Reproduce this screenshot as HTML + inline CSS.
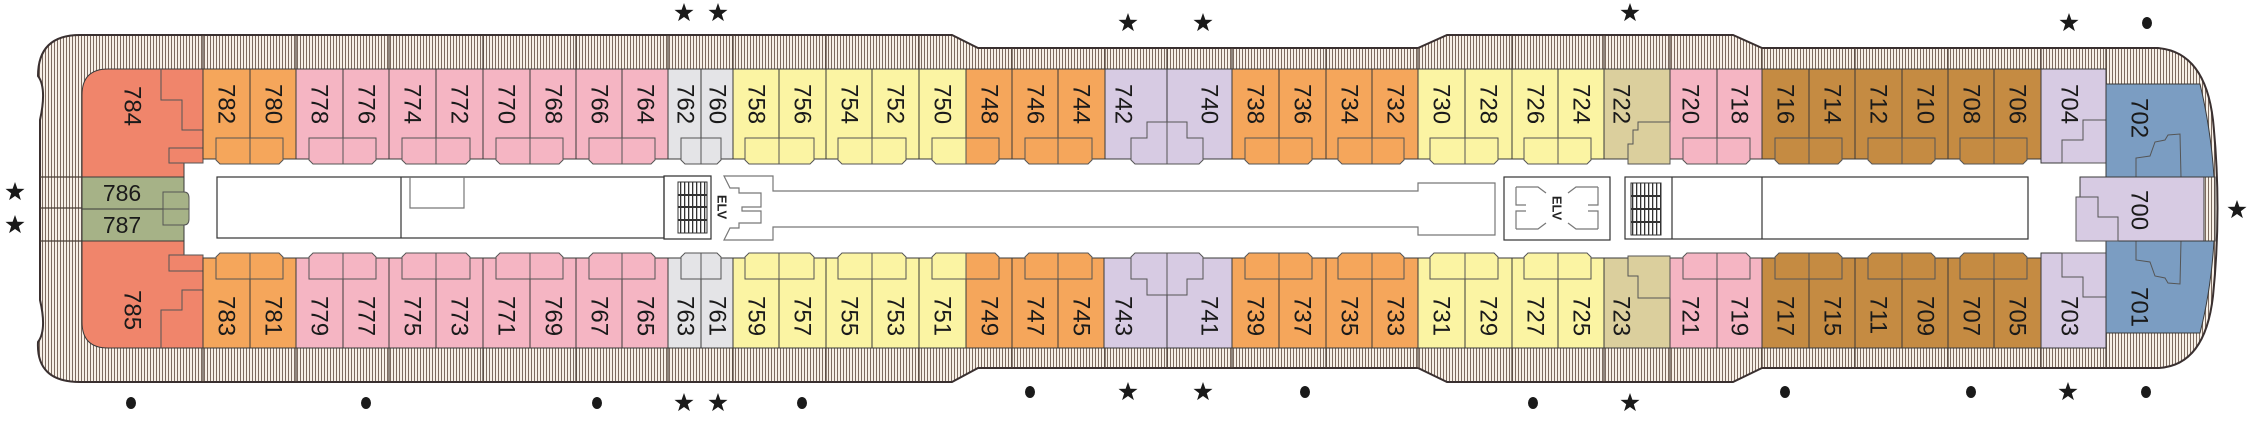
<!DOCTYPE html>
<html><head><meta charset="utf-8"><style>
html,body{margin:0;padding:0;background:#fff;}
svg{display:block;}
.n{font-family:"Liberation Sans",sans-serif;font-size:24px;fill:#1a1a1a;}
.c{stroke:#3a3a3a;stroke-width:1;}
.b{stroke:#555;stroke-width:1;}
.O{fill:#f5a65b}.P{fill:#f5b5c3}.G{fill:#e4e4e7}.Y{fill:#fbf4a3}.L{fill:#d7cbe3}.T{fill:#dbcf9d}.B{fill:#c58b42}.C{fill:#f0856b}.BL{fill:#7b9dc2}.GR{fill:#a6b287}
.ln{stroke:#333;stroke-width:1.2;fill:none}
.gl{stroke:#777;stroke-width:1.2;fill:none}
</style></head><body>
<svg width="2263" height="435" viewBox="0 0 2263 435" xmlns="http://www.w3.org/2000/svg">
<defs>
<pattern id="h" width="3" height="10" patternUnits="userSpaceOnUse"><rect width="3" height="10" fill="#f7f0e7"/><rect width="1" height="10" fill="#7d6b60"/></pattern>
<pattern id="st" width="4" height="10" patternUnits="userSpaceOnUse"><rect width="4" height="10" fill="#fff"/><rect width="1.3" height="10" fill="#333"/></pattern>
<polygon id="s" points="0,-10 2.4,-3.2 9.5,-3.1 3.8,1.2 5.9,8.1 0,4 -5.9,8.1 -3.8,1.2 -9.5,-3.1 -2.4,-3.2" fill="#1a1a1a"/>
</defs>
<!-- hull -->
<path d="M 80,35 L 952,35 L 978,48 L 1418,48 L 1447,35 L 1733,35 L 1762,48 L 2158,48 Q 2205,52 2213,120 Q 2222,208 2213,296 Q 2205,366 2158,368 L 1762,368 L 1733,382 L 1447,382 L 1418,368 L 978,368 L 952,382 L 80,382 Q 36,382 38,342 Q 47,330 40,300 L 40,120 Q 47,88 38,76 Q 38,35 80,35 Z" fill="url(#h)" stroke="#3a3030" stroke-width="2"/>
<!-- hatch dividers -->
<g stroke="#4a3c34" stroke-width="1.2">
<path d="M203,35V69M296,35V69M389,35V69M483,35V69M576,35V69M668,35V69M733,35V69M826,35V69M919,35V69M1012,48V69M1105,48V69M1167,48V69M1232,48V69M1326,48V69M1418,48V69M1512,35V69M1604,35V69M1670,35V69M1762,48V69M1855,48V69M1948,48V69M2041,48V69M2106,48V84"/>
<path d="M203,348V382M296,348V382M389,348V382M483,348V382M576,348V382M668,348V382M733,348V382M826,348V382M919,348V382M1012,348V368M1105,348V368M1167,348V368M1232,348V368M1326,348V368M1418,348V368M1512,348V382M1604,348V382M1670,348V382M1762,348V368M1855,348V368M1948,348V368M2041,348V368M2106,333V368"/>
<path d="M40,177H82M40,208H82M40,241H82"/>
</g>
<!-- corridor white -->
<rect x="184" y="159" width="1922" height="99" fill="#fff"/>
<!-- left end -->
<path d="M82,95 Q82,69 108,69 L203,69 L203,159 L184,159 L184,177 L82,177 Z" class="C c"/>
<path d="M82,241 L184,241 L184,258 L203,258 L203,348 L108,348 Q82,348 82,322 Z" class="C c"/>
<polyline points="161,69 161,100 182,100 182,130 203,130" class="b" fill="none"/>
<rect x="169" y="148" width="34" height="15" class="C b"/>
<polyline points="203,290 182,290 182,310 161,310 161,348" class="b" fill="none"/>
<rect x="169" y="255" width="34" height="16" class="C b"/>
<rect x="82" y="177" width="102" height="32" class="GR c"/>
<rect x="82" y="209" width="102" height="32" class="GR c"/>
<path d="M163,192 H184 Q189,192 189,198 V219 Q189,225 184,225 H163 Z" class="GR b"/>
<line x1="163" y1="209" x2="189" y2="209" class="b"/>
<!-- top cabins -->
<g class="c">
<rect x="203" y="69" width="47" height="90" class="O"/><rect x="250" y="69" width="46" height="90" class="O"/>
<rect x="296" y="69" width="47" height="90" class="P"/><rect x="343" y="69" width="46" height="90" class="P"/>
<rect x="389" y="69" width="47" height="90" class="P"/><rect x="436" y="69" width="47" height="90" class="P"/>
<rect x="483" y="69" width="47" height="90" class="P"/><rect x="530" y="69" width="46" height="90" class="P"/>
<rect x="576" y="69" width="46" height="90" class="P"/><rect x="622" y="69" width="46" height="90" class="P"/>
<rect x="668" y="69" width="33" height="90" class="G"/><rect x="701" y="69" width="32" height="90" class="G"/>
<rect x="733" y="69" width="46" height="90" class="Y"/><rect x="779" y="69" width="47" height="90" class="Y"/>
<rect x="826" y="69" width="46" height="90" class="Y"/><rect x="872" y="69" width="47" height="90" class="Y"/>
<rect x="919" y="69" width="47" height="90" class="Y"/><rect x="966" y="69" width="46" height="90" class="O"/>
<rect x="1012" y="69" width="46" height="90" class="O"/><rect x="1058" y="69" width="47" height="90" class="O"/>
<rect x="1105" y="69" width="62" height="90" class="L"/><rect x="1167" y="69" width="65" height="90" class="L"/>
<rect x="1232" y="69" width="47" height="90" class="O"/><rect x="1279" y="69" width="47" height="90" class="O"/>
<rect x="1326" y="69" width="46" height="90" class="O"/><rect x="1372" y="69" width="46" height="90" class="O"/>
<rect x="1418" y="69" width="47" height="90" class="Y"/><rect x="1465" y="69" width="47" height="90" class="Y"/>
<rect x="1512" y="69" width="46" height="90" class="Y"/><rect x="1558" y="69" width="46" height="90" class="Y"/>
<rect x="1604" y="69" width="66" height="90" class="T"/>
<rect x="1670" y="69" width="47" height="90" class="P"/><rect x="1717" y="69" width="45" height="90" class="P"/>
<rect x="1762" y="69" width="47" height="90" class="B"/><rect x="1809" y="69" width="46" height="90" class="B"/>
<rect x="1855" y="69" width="47" height="90" class="B"/><rect x="1902" y="69" width="46" height="90" class="B"/>
<rect x="1948" y="69" width="46" height="90" class="B"/><rect x="1994" y="69" width="47" height="90" class="B"/>
<rect x="2041" y="69" width="65" height="94" class="L"/>
</g>
<!-- bottom cabins -->
<g class="c">
<rect x="203" y="258" width="47" height="90" class="O"/><rect x="250" y="258" width="46" height="90" class="O"/>
<rect x="296" y="258" width="47" height="90" class="P"/><rect x="343" y="258" width="46" height="90" class="P"/>
<rect x="389" y="258" width="47" height="90" class="P"/><rect x="436" y="258" width="47" height="90" class="P"/>
<rect x="483" y="258" width="47" height="90" class="P"/><rect x="530" y="258" width="46" height="90" class="P"/>
<rect x="576" y="258" width="46" height="90" class="P"/><rect x="622" y="258" width="46" height="90" class="P"/>
<rect x="668" y="258" width="33" height="90" class="G"/><rect x="701" y="258" width="32" height="90" class="G"/>
<rect x="733" y="258" width="46" height="90" class="Y"/><rect x="779" y="258" width="47" height="90" class="Y"/>
<rect x="826" y="258" width="46" height="90" class="Y"/><rect x="872" y="258" width="47" height="90" class="Y"/>
<rect x="919" y="258" width="47" height="90" class="Y"/><rect x="966" y="258" width="46" height="90" class="O"/>
<rect x="1012" y="258" width="46" height="90" class="O"/><rect x="1058" y="258" width="46" height="90" class="O"/>
<rect x="1104" y="258" width="63" height="90" class="L"/><rect x="1167" y="258" width="65" height="90" class="L"/>
<rect x="1232" y="258" width="47" height="90" class="O"/><rect x="1279" y="258" width="47" height="90" class="O"/>
<rect x="1326" y="258" width="46" height="90" class="O"/><rect x="1372" y="258" width="46" height="90" class="O"/>
<rect x="1418" y="258" width="47" height="90" class="Y"/><rect x="1465" y="258" width="47" height="90" class="Y"/>
<rect x="1512" y="258" width="46" height="90" class="Y"/><rect x="1558" y="258" width="46" height="90" class="Y"/>
<rect x="1604" y="258" width="66" height="90" class="T"/>
<rect x="1670" y="258" width="47" height="90" class="P"/><rect x="1717" y="258" width="45" height="90" class="P"/>
<rect x="1762" y="258" width="47" height="90" class="B"/><rect x="1809" y="258" width="46" height="90" class="B"/>
<rect x="1855" y="258" width="47" height="90" class="B"/><rect x="1902" y="258" width="46" height="90" class="B"/>
<rect x="1948" y="258" width="46" height="90" class="B"/><rect x="1994" y="258" width="47" height="90" class="B"/>
<rect x="2041" y="253" width="65" height="95" class="L"/>
</g>
<!-- top bays -->
<g class="b">
<path d="M216,138H250V164H220L216,160Z" class="O"/><path d="M250,138H283V160L279,164H250Z" class="O"/>
<path d="M309,138H343V164H313L309,160Z" class="P"/><path d="M343,138H376V160L372,164H343Z" class="P"/>
<path d="M402,138H436V164H406L402,160Z" class="P"/><path d="M436,138H470V160L466,164H436Z" class="P"/>
<path d="M496,138H530V164H500L496,160Z" class="P"/><path d="M530,138H563V160L559,164H530Z" class="P"/>
<path d="M589,138H622V164H593L589,160Z" class="P"/><path d="M622,138H655V160L651,164H622Z" class="P"/>
<path d="M681,138H701V164H685L681,160Z" class="G"/><path d="M701,138H721V160L717,164H701Z" class="G"/>
<path d="M745,138H779V164H749L745,160Z" class="Y"/><path d="M779,138H814V160L810,164H779Z" class="Y"/>
<path d="M838,138H872V164H842L838,160Z" class="Y"/><path d="M872,138H906V160L902,164H872Z" class="Y"/>
<path d="M932,138H966V164H936L932,160Z" class="Y"/><path d="M966,138H999V160L995,164H966Z" class="O"/>
<path d="M1025,138H1058V164H1029L1025,160Z" class="O"/><path d="M1058,138H1092V160L1088,164H1058Z" class="O"/>
<path d="M1147,122H1187V138H1203V160L1199,164H1135L1131,160V138H1147Z" class="L"/><line x1="1167" y1="122" x2="1167" y2="164"/>
<path d="M1245,138H1279V164H1249L1245,160Z" class="O"/><path d="M1279,138H1312V160L1308,164H1279Z" class="O"/>
<path d="M1338,138H1372V164H1342L1338,160Z" class="O"/><path d="M1372,138H1404V160L1400,164H1372Z" class="O"/>
<path d="M1430,138H1465V164H1434L1430,160Z" class="Y"/><path d="M1465,138H1498V160L1494,164H1465Z" class="Y"/>
<path d="M1524,138H1558V164H1528L1524,160Z" class="Y"/><path d="M1558,138H1591V160L1587,164H1558Z" class="Y"/>
<path d="M1638,122H1670V164H1628V144H1633V130H1638Z" class="T"/>
<path d="M1683,138H1717V164H1687L1683,160Z" class="P"/><path d="M1717,138H1750V160L1746,164H1717Z" class="P"/>
<path d="M1775,138H1809V164H1779L1775,160Z" class="B"/><path d="M1809,138H1842V160L1838,164H1809Z" class="B"/>
<path d="M1868,138H1902V164H1872L1868,160Z" class="B"/><path d="M1902,138H1935V160L1931,164H1902Z" class="B"/>
<path d="M1960,138H1994V164H1964L1960,160Z" class="B"/><path d="M1994,138H2027V160L2023,164H1994Z" class="B"/>
<path d="M2062,140H2083V120H2106V163H2062Z" class="L"/>
</g>
<!-- bottom bays -->
<g class="b">
<path d="M216,279H250V253H220L216,257Z" class="O"/><path d="M250,279H283V257L279,253H250Z" class="O"/>
<path d="M309,279H343V253H313L309,257Z" class="P"/><path d="M343,279H376V257L372,253H343Z" class="P"/>
<path d="M402,279H436V253H406L402,257Z" class="P"/><path d="M436,279H470V257L466,253H436Z" class="P"/>
<path d="M496,279H530V253H500L496,257Z" class="P"/><path d="M530,279H563V257L559,253H530Z" class="P"/>
<path d="M589,279H622V253H593L589,257Z" class="P"/><path d="M622,279H655V257L651,253H622Z" class="P"/>
<path d="M681,279H701V253H685L681,257Z" class="G"/><path d="M701,279H721V257L717,253H701Z" class="G"/>
<path d="M745,279H779V253H749L745,257Z" class="Y"/><path d="M779,279H814V257L810,253H779Z" class="Y"/>
<path d="M838,279H872V253H842L838,257Z" class="Y"/><path d="M872,279H906V257L902,253H872Z" class="Y"/>
<path d="M932,279H966V253H936L932,257Z" class="Y"/><path d="M966,279H999V257L995,253H966Z" class="O"/>
<path d="M1025,279H1058V253H1029L1025,257Z" class="O"/><path d="M1058,279H1092V257L1088,253H1058Z" class="O"/>
<path d="M1147,295H1187V279H1203V257L1199,253H1135L1131,257V279H1147Z" class="L"/><line x1="1167" y1="253" x2="1167" y2="295"/>
<path d="M1245,279H1279V253H1249L1245,257Z" class="O"/><path d="M1279,279H1312V257L1308,253H1279Z" class="O"/>
<path d="M1338,279H1372V253H1342L1338,257Z" class="O"/><path d="M1372,279H1404V257L1400,253H1372Z" class="O"/>
<path d="M1430,279H1465V253H1434L1430,257Z" class="Y"/><path d="M1465,279H1498V257L1494,253H1465Z" class="Y"/>
<path d="M1524,279H1558V253H1528L1524,257Z" class="Y"/><path d="M1558,279H1591V257L1587,253H1558Z" class="Y"/>
<path d="M1628,256H1670V298H1638V276H1628Z" class="T"/>
<path d="M1683,279H1717V253H1687L1683,257Z" class="P"/><path d="M1717,279H1750V257L1746,253H1717Z" class="P"/>
<path d="M1775,279H1809V253H1779L1775,257Z" class="B"/><path d="M1809,279H1842V257L1838,253H1809Z" class="B"/>
<path d="M1868,279H1902V253H1872L1868,257Z" class="B"/><path d="M1902,279H1935V257L1931,253H1902Z" class="B"/>
<path d="M1960,279H1994V253H1964L1960,257Z" class="B"/><path d="M1994,279H2027V257L2023,253H1994Z" class="B"/>
<path d="M2062,253H2106V297H2083V277H2062Z" class="L"/>
</g>
<!-- right end -->
<path d="M2106,84 L2200,84 Q2211,130 2214,177 L2106,177 Z" class="BL c"/>
<path d="M2106,241 L2214,241 Q2211,290 2200,333 L2106,333 Z" class="BL c"/>
<polyline points="2136,177 2136,158 2150,156 2155,142 2165,140 2168,135 2180,134 2181,177" class="b" fill="none"/>
<polyline points="2136,241 2136,260 2150,262 2155,276 2165,278 2168,283 2180,284 2181,241" class="b" fill="none"/>
<rect x="2080" y="177" width="124" height="64" class="L c"/>
<rect x="2204" y="177" width="11" height="64" fill="url(#h)" stroke="#3a3a3a"/>
<path d="M2076,197H2098V217H2118V241H2076Z" class="L b"/>
<!-- corridor -->
<rect x="217" y="177" width="447" height="61" fill="#fff" class="ln"/>
<line x1="401" y1="177" x2="401" y2="238" class="ln"/>
<path d="M410,177V208H464V177" class="gl"/>
<path d="M664,176H711V239H664Z" fill="#fff" class="ln"/>
<rect x="678" y="182" width="29" height="51" fill="url(#st)" stroke="#333"/>
<path d="M678,195H707M678,207H707M678,220H707" stroke="#333" stroke-width="2"/>
<path d="M724,176H773V191H1418V183H1495V235H1418V227H773V240H724L730,228H739V223H761V211H742V207H761V193H739V188H730Z" fill="#fff" class="gl"/>
<text x="0" y="0" transform="translate(722,207) rotate(90)" text-anchor="middle" dominant-baseline="central" font-family="Liberation Sans,sans-serif" font-weight="bold" font-size="13" fill="#222">ELV</text>
<rect x="1504" y="177" width="106" height="63" fill="#fff" class="ln"/>
<path d="M1516,187H1538L1546,193M1516,229H1538L1546,223M1598,187H1576L1568,193M1598,229H1576L1568,223M1516,187V205H1526M1516,229V211H1526M1598,187V205H1588M1598,229V211H1588" class="gl"/>
<text x="0" y="0" transform="translate(1557,208) rotate(90)" text-anchor="middle" dominant-baseline="central" font-family="Liberation Sans,sans-serif" font-weight="bold" font-size="13" fill="#222">ELV</text>
<rect x="1625" y="177" width="403" height="62" fill="#fff" class="ln"/>
<line x1="1762" y1="177" x2="1762" y2="239" class="ln"/>
<rect x="1631" y="183" width="30" height="52" fill="url(#st)" stroke="#333"/>
<path d="M1631,196H1661M1631,209H1661M1631,222H1661" stroke="#333" stroke-width="2"/>
<line x1="1672" y1="177" x2="1672" y2="239" class="ln"/>
<!-- labels -->
<g class="n" dominant-baseline="central">
<text transform="translate(132,86) rotate(90)">784</text>
<text transform="translate(132,290) rotate(90)">785</text>
<text x="122" y="193" text-anchor="middle" dominant-baseline="central" style="font-size:23px">786</text>
<text x="122" y="225" text-anchor="middle" dominant-baseline="central" style="font-size:23px">787</text>
<text transform="translate(226,84) rotate(90)">782</text><text transform="translate(273,84) rotate(90)">780</text>
<text transform="translate(319,84) rotate(90)">778</text><text transform="translate(366,84) rotate(90)">776</text>
<text transform="translate(412,84) rotate(90)">774</text><text transform="translate(459,84) rotate(90)">772</text>
<text transform="translate(506,84) rotate(90)">770</text><text transform="translate(553,84) rotate(90)">768</text>
<text transform="translate(599,84) rotate(90)">766</text><text transform="translate(645,84) rotate(90)">764</text>
<text transform="translate(685,84) rotate(90)">762</text><text transform="translate(717,84) rotate(90)">760</text>
<text transform="translate(756,84) rotate(90)">758</text><text transform="translate(802,84) rotate(90)">756</text>
<text transform="translate(849,84) rotate(90)">754</text><text transform="translate(895,84) rotate(90)">752</text>
<text transform="translate(942,84) rotate(90)">750</text><text transform="translate(989,84) rotate(90)">748</text>
<text transform="translate(1035,84) rotate(90)">746</text><text transform="translate(1081,84) rotate(90)">744</text>
<text transform="translate(1123,84) rotate(90)">742</text><text transform="translate(1209,84) rotate(90)">740</text>
<text transform="translate(1255,84) rotate(90)">738</text><text transform="translate(1302,84) rotate(90)">736</text>
<text transform="translate(1349,84) rotate(90)">734</text><text transform="translate(1395,84) rotate(90)">732</text>
<text transform="translate(1441,84) rotate(90)">730</text><text transform="translate(1488,84) rotate(90)">728</text>
<text transform="translate(1535,84) rotate(90)">726</text><text transform="translate(1581,84) rotate(90)">724</text>
<text transform="translate(1621,84) rotate(90)">722</text>
<text transform="translate(1690,84) rotate(90)">720</text><text transform="translate(1739,84) rotate(90)">718</text>
<text transform="translate(1785,84) rotate(90)">716</text><text transform="translate(1832,84) rotate(90)">714</text>
<text transform="translate(1878,84) rotate(90)">712</text><text transform="translate(1925,84) rotate(90)">710</text>
<text transform="translate(1971,84) rotate(90)">708</text><text transform="translate(2017,84) rotate(90)">706</text>
<text transform="translate(2069,84) rotate(90)">704</text>
<text transform="translate(2139,98) rotate(90)">702</text>
<text transform="translate(2139,190) rotate(90)">700</text>
<text transform="translate(2139,287) rotate(90)">701</text>
<text transform="translate(2069,296) rotate(90)">703</text>
<text transform="translate(226,296) rotate(90)">783</text><text transform="translate(273,296) rotate(90)">781</text>
<text transform="translate(319,296) rotate(90)">779</text><text transform="translate(366,296) rotate(90)">777</text>
<text transform="translate(412,296) rotate(90)">775</text><text transform="translate(459,296) rotate(90)">773</text>
<text transform="translate(506,296) rotate(90)">771</text><text transform="translate(553,296) rotate(90)">769</text>
<text transform="translate(599,296) rotate(90)">767</text><text transform="translate(645,296) rotate(90)">765</text>
<text transform="translate(685,296) rotate(90)">763</text><text transform="translate(717,296) rotate(90)">761</text>
<text transform="translate(756,296) rotate(90)">759</text><text transform="translate(802,296) rotate(90)">757</text>
<text transform="translate(849,296) rotate(90)">755</text><text transform="translate(895,296) rotate(90)">753</text>
<text transform="translate(942,296) rotate(90)">751</text><text transform="translate(989,296) rotate(90)">749</text>
<text transform="translate(1035,296) rotate(90)">747</text><text transform="translate(1081,296) rotate(90)">745</text>
<text transform="translate(1123,296) rotate(90)">743</text><text transform="translate(1209,296) rotate(90)">741</text>
<text transform="translate(1255,296) rotate(90)">739</text><text transform="translate(1302,296) rotate(90)">737</text>
<text transform="translate(1349,296) rotate(90)">735</text><text transform="translate(1395,296) rotate(90)">733</text>
<text transform="translate(1441,296) rotate(90)">731</text><text transform="translate(1488,296) rotate(90)">729</text>
<text transform="translate(1535,296) rotate(90)">727</text><text transform="translate(1581,296) rotate(90)">725</text>
<text transform="translate(1621,296) rotate(90)">723</text>
<text transform="translate(1690,296) rotate(90)">721</text><text transform="translate(1739,296) rotate(90)">719</text>
<text transform="translate(1785,296) rotate(90)">717</text><text transform="translate(1832,296) rotate(90)">715</text>
<text transform="translate(1878,296) rotate(90)">711</text><text transform="translate(1925,296) rotate(90)">709</text>
<text transform="translate(1971,296) rotate(90)">707</text><text transform="translate(2017,296) rotate(90)">705</text>
</g>
<!-- stars & dots -->
<use href="#s" x="684" y="13"/><use href="#s" x="718" y="13"/><use href="#s" x="1128" y="23"/><use href="#s" x="1203" y="23"/><use href="#s" x="1630" y="13"/><use href="#s" x="2069" y="23"/>
<use href="#s" x="15" y="192"/><use href="#s" x="15" y="225"/><use href="#s" x="2237" y="210"/>
<use href="#s" x="684" y="403"/><use href="#s" x="718" y="403"/><use href="#s" x="1128" y="392"/><use href="#s" x="1203" y="392"/><use href="#s" x="1630" y="403"/><use href="#s" x="2068" y="392"/>
<g fill="#1a1a1a">
<ellipse cx="2147" cy="23" rx="5" ry="6"/>
<ellipse cx="131" cy="403" rx="5" ry="6"/><ellipse cx="366" cy="403" rx="5" ry="6"/><ellipse cx="597" cy="403" rx="5" ry="6"/><ellipse cx="802" cy="403" rx="5" ry="6"/>
<ellipse cx="1030" cy="392" rx="5" ry="6"/><ellipse cx="1305" cy="392" rx="5" ry="6"/><ellipse cx="1533" cy="403" rx="5" ry="6"/><ellipse cx="1785" cy="392" rx="5" ry="6"/><ellipse cx="1971" cy="392" rx="5" ry="6"/><ellipse cx="2146" cy="392" rx="5" ry="6"/>
</g>
</svg>
</body></html>
